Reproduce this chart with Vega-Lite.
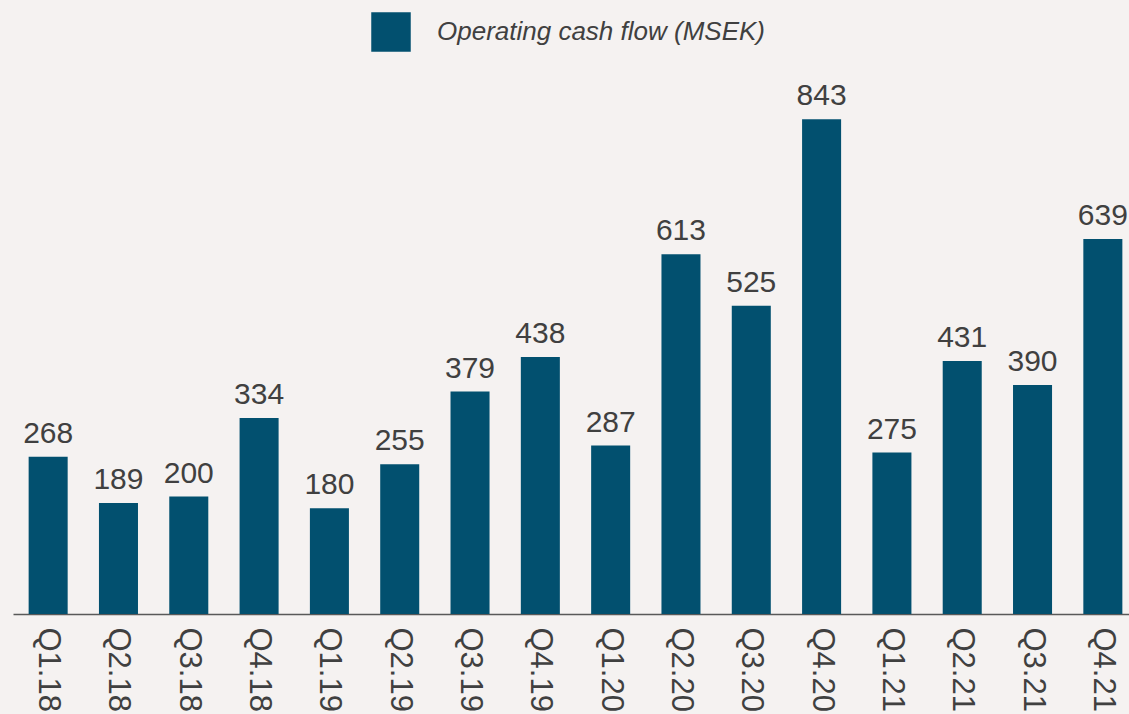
{
  "$schema": "https://vega.github.io/schema/vega-lite/v6.json",
  "autosize": "none",
  "width": 1125,
  "height": 587,
  "padding": {"left": 13, "top": 27, "right": 0, "bottom": 100},
  "background": "#f5f2f1",
  "config": {
    "view": {"stroke": null},
    "font": "Liberation Sans"
  },
  "data": {
    "values": [
      {"quarter": "Q1.18", "value": 268, "series": "Operating cash flow (MSEK)"},
      {"quarter": "Q2.18", "value": 189, "series": "Operating cash flow (MSEK)"},
      {"quarter": "Q3.18", "value": 200, "series": "Operating cash flow (MSEK)"},
      {"quarter": "Q4.18", "value": 334, "series": "Operating cash flow (MSEK)"},
      {"quarter": "Q1.19", "value": 180, "series": "Operating cash flow (MSEK)"},
      {"quarter": "Q2.19", "value": 255, "series": "Operating cash flow (MSEK)"},
      {"quarter": "Q3.19", "value": 379, "series": "Operating cash flow (MSEK)"},
      {"quarter": "Q4.19", "value": 438, "series": "Operating cash flow (MSEK)"},
      {"quarter": "Q1.20", "value": 287, "series": "Operating cash flow (MSEK)"},
      {"quarter": "Q2.20", "value": 613, "series": "Operating cash flow (MSEK)"},
      {"quarter": "Q3.20", "value": 525, "series": "Operating cash flow (MSEK)"},
      {"quarter": "Q4.20", "value": 843, "series": "Operating cash flow (MSEK)"},
      {"quarter": "Q1.21", "value": 275, "series": "Operating cash flow (MSEK)"},
      {"quarter": "Q2.21", "value": 431, "series": "Operating cash flow (MSEK)"},
      {"quarter": "Q3.21", "value": 390, "series": "Operating cash flow (MSEK)"},
      {"quarter": "Q4.21", "value": 639, "series": "Operating cash flow (MSEK)"}
    ]
  },
  "encoding": {
    "x": {
      "field": "quarter",
      "type": "nominal",
      "sort": null,
      "scale": {"paddingInner": 0.445, "paddingOuter": 0.2225},
      "axis": {
        "title": null,
        "labelAngle": 90,
        "labelAlign": "left",
        "labelBaseline": "middle",
        "labelFontSize": 31,
        "labelColor": "#404040",
        "labelPadding": 13,
        "ticks": false,
        "tickSize": 0,
        "domainColor": "#595959",
        "domainWidth": 1.5,
        "grid": false
      }
    },
    "y": {
      "field": "value",
      "type": "quantitative",
      "scale": {"domain": [0, 1000], "nice": false},
      "axis": null
    }
  },
  "layer": [
    {
      "mark": {"type": "bar"},
      "encoding": {
        "color": {
          "field": "series",
          "type": "nominal",
          "scale": {"range": ["#02506f"]},
          "legend": {
            "title": null,
            "orient": "none",
            "legendX": 358,
            "legendY": -15,
            "padding": 0,
            "symbolType": "square",
            "symbolSize": 1560,
            "symbolStrokeWidth": 0,
            "labelFontSize": 26,
            "labelFontStyle": "italic",
            "labelColor": "#404040",
            "labelOffset": 26,
            "labelLimit": 600
          }
        }
      }
    },
    {
      "mark": {"type": "text", "baseline": "alphabetic", "dy": -14, "fontSize": 30, "color": "#404040"},
      "encoding": {"text": {"field": "value", "type": "quantitative"}}
    }
  ]
}
